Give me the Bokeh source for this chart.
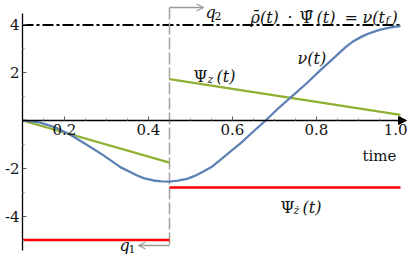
from bokeh.plotting import figure
from bokeh.models import (LinearAxis, FixedTicker, Label, Arrow, NormalHead, OpenHead,
                          PrintfTickFormatter)
from bokeh.embed import file_html
from bokeh.resources import INLINE

# ---- data ----
t_start, t_end = 0.1, 1.0
t_switch = 0.45
target_value = 4.0

nu_t = [0.10, 0.14, 0.18, 0.214, 0.25, 0.293, 0.333, 0.373, 0.39, 0.412, 0.43, 0.45,
        0.47, 0.492, 0.51, 0.524, 0.55, 0.571, 0.602, 0.619, 0.651, 0.679, 0.706,
        0.738, 0.778, 0.81, 0.85, 0.87, 0.889, 0.91, 0.929, 0.95, 0.968, 0.985, 1.0]
nu_v = [0.0, -0.08, -0.30, -0.60, -0.98, -1.46, -1.95, -2.30, -2.42, -2.51, -2.55, -2.56,
        -2.52, -2.44, -2.32, -2.2, -1.95, -1.65, -1.2, -0.96, -0.44, 0.0, 0.46,
        0.96, 1.58, 2.12, 2.76, 3.08, 3.33, 3.53, 3.67, 3.79, 3.86, 3.92, 3.95]

psi_z_t1 = [0.1, 0.45]
psi_z_v1 = [0.0, -1.76]
psi_z_t2 = [0.45, 1.0]
psi_z_v2 = [1.73, 0.24]

psi_zdot_t1 = [0.1, 0.45]
psi_zdot_v1 = [-5.0, -5.0]
psi_zdot_t2 = [0.45, 1.0]
psi_zdot_v2 = [-2.8, -2.8]

x_ticks = [0.2, 0.4, 0.6, 0.8, 1.0]
x_minor = [0.15, 0.25, 0.3, 0.35, 0.45, 0.5, 0.55, 0.65, 0.7, 0.75, 0.85, 0.9, 0.95]
y_ticks = [-4, -2, 2, 4]
y_tick_labels = ["-4", "-2", "2", "4"]
y_minor = [-5, -3, -1, 1, 3]

# ---- layout helpers (pixel -> data) ----
def px2t(px):
    return 0.2 + (px - 64) / 420.0

def py2y(py):
    return (120 - py) / 23.9

W, H = 407, 254
p = figure(width=W, height=H, output_backend="svg", toolbar_location=None,
           x_range=(px2t(0), px2t(W)), y_range=(py2y(H), py2y(0)),
           x_axis_type=None, y_axis_type=None, min_border=0)
p.outline_line_color = None
p.background_fill_color = "white"
p.border_fill_color = "white"

FONT = "DejaVu Serif"

xaxis = LinearAxis(fixed_location=0, bounds=(t_start, 1.01),
                   ticker=FixedTicker(ticks=x_ticks, minor_ticks=x_minor),
                   formatter=PrintfTickFormatter(format="%.1f"))
yaxis = LinearAxis(fixed_location=t_start, bounds=(py2y(250), py2y(13)),
                   ticker=FixedTicker(ticks=y_ticks, minor_ticks=y_minor),
                   major_label_overrides={k: v for k, v in zip(y_ticks, y_tick_labels)})
for ax in (xaxis, yaxis):
    ax.axis_line_color = "black"
    ax.axis_line_width = 1.3
    ax.major_tick_in = 4
    ax.major_tick_out = 0
    ax.minor_tick_in = 2
    ax.minor_tick_out = 0
    ax.major_tick_line_color = "#555555"
    ax.minor_tick_line_color = "#888888"
    ax.major_label_text_font = FONT
    ax.major_label_text_font_size = "15px"
    ax.major_label_text_color = "#111111"
    ax.major_label_standoff = 3
p.add_layout(xaxis, "below")
p.add_layout(yaxis, "left")

p.add_layout(Arrow(end=NormalHead(size=8, fill_color="black", line_color="black"),
                   x_start=1.0, y_start=0, x_end=px2t(406), y_end=0,
                   line_color="black", line_width=1.3))

# target dash-dot line
p.line([t_start, t_end], [target_value, target_value], line_color="black",
       line_width=2, line_dash="11 3 3 3")

# switching time dashed line
top_y, bot_y = py2y(7), py2y(245)
p.line([t_switch, t_switch], [top_y, bot_y], line_color="#a0a0a0",
       line_width=1.5, line_dash="12 3")
p.add_layout(Arrow(end=OpenHead(size=7, line_color="#999999", line_width=1.3),
                   x_start=t_switch, y_start=top_y, x_end=px2t(203), y_end=top_y,
                   line_color="#999999", line_width=1.3))
p.add_layout(Arrow(end=OpenHead(size=7, line_color="#999999", line_width=1.3),
                   x_start=t_switch, y_start=bot_y, x_end=px2t(138), y_end=bot_y,
                   line_color="#999999", line_width=1.3))

# series
GREEN = "#8fb032"
BLUE = "#5e81b5"
RED = "#ff0000"
p.line(psi_zdot_t1, psi_zdot_v1, line_color=RED, line_width=2.5)
p.line(psi_zdot_t2, psi_zdot_v2, line_color=RED, line_width=2.5)
p.line(psi_z_t1, psi_z_v1, line_color=GREEN, line_width=2.3)
p.line(psi_z_t2, psi_z_v2, line_color=GREEN, line_width=2.3)
p.line(nu_t, nu_v, line_color=BLUE, line_width=2.3, line_join="round")

# text labels: (x_px, baseline_px, text, style, size, align)
labels = [
    (250, 17, "ρ̄(t)", "italic", 16, "left"),
    (287, 17, "·", "normal", 16, "left"),
    (299, 17, "Ψ̄", "normal", 16, "left"),
    (316, 17, "(t)", "italic", 16, "left"),
    (344, 17, "=", "normal", 16, "left"),
    (362, 17, "ν(t", "italic", 16, "left"),
    (385, 20, "f", "italic", 11, "left"),
    (391, 17, ")", "italic", 16, "left"),
    (297, 58, "ν(t)", "italic", 16, "left"),
    (193, 76, "Ψ", "normal", 16, "left"),
    (207, 79, "z", "italic", 11, "left"),
    (216, 76, "(t)", "italic", 16, "left"),
    (280, 207, "Ψ", "normal", 16, "left"),
    (293, 210, "ż", "italic", 11, "left"),
    (302, 207, "(t)", "italic", 16, "left"),
    (379, 155, "time", "normal", 15, "center"),
    (205, 12, "q", "italic", 16, "left"),
    (214, 15, "2", "normal", 11, "left"),
    (119, 245, "q", "italic", 16, "left"),
    (128, 248, "1", "normal", 11, "left"),
]
for xp, yp, txt, style, size, align in labels:
    p.add_layout(Label(x=px2t(xp), y=py2y(yp), text=txt, text_font=FONT,
                       text_font_style=style, text_font_size=f"{size}px",
                       text_baseline="alphabetic", text_align=align,
                       text_color="#111111"))

open("out.html", "w").write(file_html(p, INLINE))
